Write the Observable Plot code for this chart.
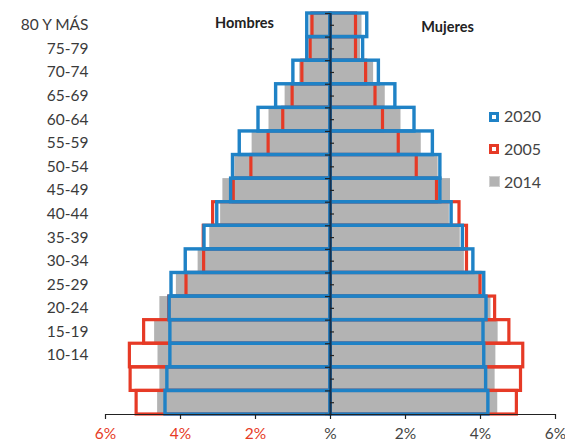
<!DOCTYPE html>
<html>
<head>
<meta charset="utf-8">
<script src="https://cdn.jsdelivr.net/npm/d3@7"></script>
<script src="https://cdn.jsdelivr.net/npm/@observablehq/plot@0.6"></script>
<style>
  body { margin: 0; background: #fff; font-family: Lato, "Open Sans", sans-serif; }
  #wrap { position: relative; width: 565px; height: 441px; overflow: hidden; }
  #legend { position: absolute; left: 489px; top: 0; }
  .item { position: absolute; left: 0; width: 70px; height: 20px; }
  .sw { position: absolute; left: 0; width: 10px; height: 10px; box-sizing: border-box; }
  .lab { position: absolute; left: 15px; font-size: 16px; line-height: 16px; color: #444; }
</style>
</head>
<body>
<div id="wrap"><div id="legend"></div></div>
<script>
// Age groups, bottom to top
const ages = ["0-4","5-9","10-14","15-19","20-24","25-29","30-34","35-39","40-44","45-49","50-54","55-59","60-64","65-69","70-74","75-79","80 Y MÁS"];
// Labels shown on the axis (the two youngest groups carry no label in the original)
const ageLabels = ["","","10-14","15-19","20-24","25-29","30-34","35-39","40-44","45-49","50-54","55-59","60-64","65-69","70-74","75-79","80 Y MÁS"];

// Percent of population, bottom to top
const hombres2014 = [4.61,4.55,4.60,4.69,4.55,4.11,3.53,3.22,2.93,2.87,2.55,2.09,1.64,1.21,0.82,0.57,0.55];
const hombres2005 = [5.17,5.33,5.35,4.97,4.30,3.84,3.37,3.38,3.13,2.58,2.11,1.65,1.26,1.01,0.75,0.53,0.48];
const hombres2020 = [4.40,4.35,4.27,4.27,4.29,4.24,3.86,3.36,3.02,2.65,2.60,2.42,1.92,1.45,0.99,0.62,0.62];
const mujeres2014 = [4.46,4.39,4.41,4.47,4.28,4.04,3.57,3.46,3.17,3.20,2.87,2.42,1.88,1.46,1.15,0.80,0.84];
const mujeres2005 = [4.97,5.08,5.14,4.77,4.39,4.00,3.64,3.64,3.44,2.84,2.30,1.82,1.40,1.20,0.95,0.68,0.68];
const mujeres2020 = [4.21,4.15,4.10,4.08,4.16,4.10,3.81,3.53,3.23,2.93,2.93,2.73,2.24,1.73,1.29,0.87,0.98];

const xTicks = [-6,-4,-2,0,2,4,6];
const seriesNames = ["2020","2005","2014"];
const sexTitles = ["Hombres","Mujeres"];

const BLUE = "#1f82c6", RED = "#e63a26", GRAY = "#b3b3b3";

function rows(men, women) {
  const out = [];
  ages.forEach((a, i) => {
    out.push({age: a, i, x1: 0, x2: -men[i]});
    out.push({age: a, i, x1: 0, x2: women[i]});
  });
  return out;
}
const gray = rows(hombres2014, mujeres2014);
const red = rows(hombres2005, mujeres2005);
const blue = rows(hombres2020, mujeres2020);

const bounds = d3.range(ages.length + 1);
const centers = ages.map((a, i) => i + 0.5);

const plot = Plot.plot({
  width: 565,
  height: 441,
  marginLeft: 105,
  marginRight: 10,
  marginTop: 13,
  marginBottom: 27,
  x: {domain: [xTicks[0], xTicks[xTicks.length - 1]], axis: null},
  y: {domain: [0, ages.length], axis: null},
  style: {fontFamily: "Lato, 'Open Sans', sans-serif", background: "#fff"},
  marks: [
    Plot.rect(gray, {x1: "x1", x2: "x2", y1: d => d.i, y2: d => d.i + 1, fill: GRAY}),
    Plot.rect(red, {x1: "x1", x2: "x2", y1: d => d.i, y2: d => d.i + 1, fill: "none", stroke: RED, strokeWidth: 3.2}),
    Plot.rect(blue, {x1: "x1", x2: "x2", y1: d => d.i, y2: d => d.i + 1, fill: "none", stroke: BLUE, strokeWidth: 3.4}),
    // center axis line with small ticks
    Plot.ruleX([0], {y1: 0, y2: ages.length, stroke: "#16324f", strokeWidth: 2.2}),
    Plot.ruleY(bounds, {y: d => d, x1: 0, x2: 0, insetLeft: -5, stroke: "#222", strokeWidth: 1.2}),
    Plot.ruleY(centers, {y: d => d, x1: 0, x2: 0, insetRight: -4, stroke: "#222", strokeWidth: 1.2}),
    // y labels
    Plot.axisY({ticks: centers, tickFormat: (d, k) => ageLabels[Math.floor(d)], tickSize: 0, tickPadding: 17, fontSize: 15.5, fill: "#3a3a3a", label: null}),
    // x baseline and ticks
    Plot.ruleY([0], {x1: xTicks[0], x2: xTicks[xTicks.length - 1], stroke: "#222", strokeWidth: 1.2}),
    Plot.ruleX(xTicks, {x: d => d, y1: 0, y2: 0, insetBottom: -5, stroke: "#222", strokeWidth: 1.2}),
    Plot.text(xTicks, {x: d => d, y: 0, dy: 13, lineAnchor: "top", text: d => d === 0 ? "%" : Math.abs(d) + "%", fill: d => d < 0 ? RED : "#444", fontSize: 15.5}),
    // titles
    Plot.text([sexTitles[0]], {frameAnchor: "top", dx: -86, dy: 10, lineAnchor: "middle", fontWeight: "bold", fontSize: 14.5, fill: "#222"}),
    Plot.text([sexTitles[1]], {frameAnchor: "top", dx: 117, dy: 14, lineAnchor: "middle", fontWeight: "bold", fontSize: 14.5, fill: "#222"})
  ]
});
document.getElementById("wrap").prepend(plot);

// legend
const legend = document.getElementById("legend");
const swatchStyles = [
  `border: 3px solid ${BLUE}; background: #fff;`,
  `border: 3px solid ${RED}; background: #fff;`,
  `background: ${GRAY}; border: 1.5px solid #cfcfcf;`
];
const tops = [108, 140.5, 173.5];
seriesNames.forEach((name, k) => {
  const it = document.createElement("div");
  it.className = "item";
  it.style.top = tops[k] + "px";
  it.innerHTML = `<div class="sw" style="top:${k === 2 ? 2.5 : 3.7}px;${k === 2 ? "width:11px;height:11px;" : ""}${swatchStyles[k]}"></div><div class="lab" style="top:0">${name}</div>`;
  legend.appendChild(it);
});
</script>
</body>
</html>
